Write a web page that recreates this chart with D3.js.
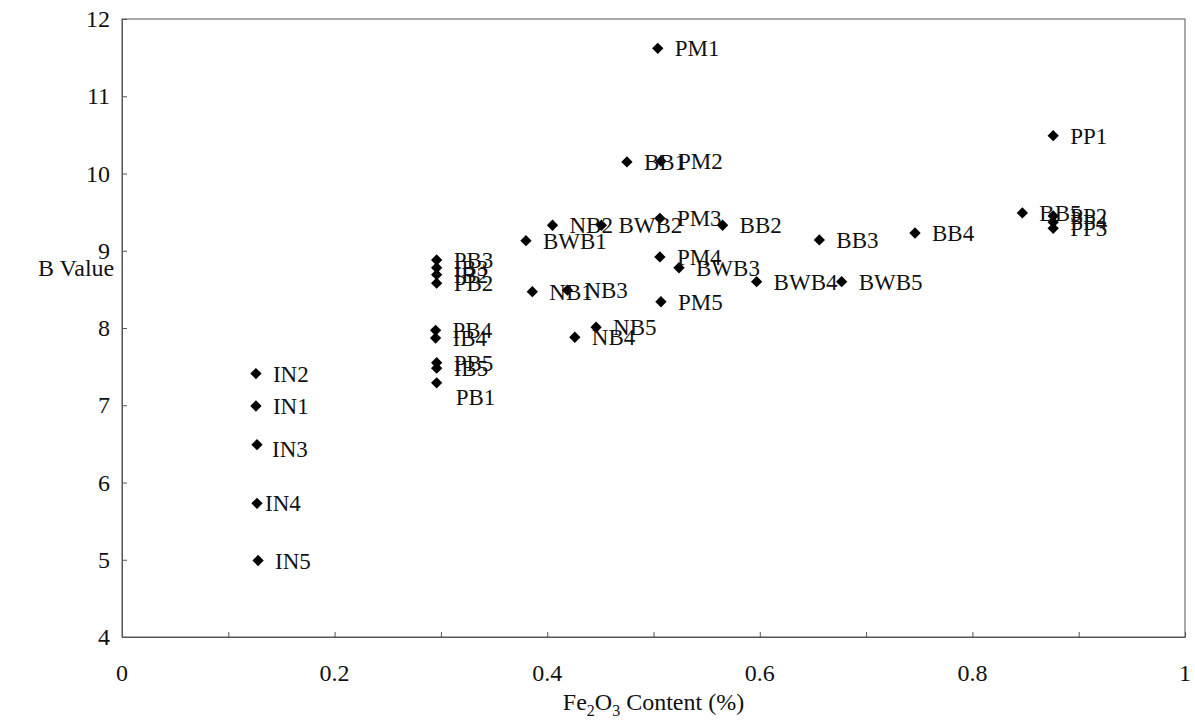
<!DOCTYPE html>
<html>
<head>
<meta charset="utf-8">
<script src="https://cdn.jsdelivr.net/npm/d3@7"></script>
<style>
  body { margin: 0; background: #fff; }
  text { font-family: "Liberation Serif", "DejaVu Serif", serif; fill: #111; }
</style>
</head>
<body>
<svg id="chart" width="1195" height="722"></svg>
<script>

const names = ["IN2", "IN1", "IN3", "IN4", "IN5",
  "PB3", "IB3", "IB2", "PB2", "PB4", "IB4", "PB5", "IB5", "PB1",
  "BWB1", "NB2", "BWB2", "PM3", "BB2", "BB1", "PM2", "PM1",
  "PP1", "BB5", "PP2", "PP4", "PP3", "BB3", "BB4",
  "PM4", "BWB3", "BWB4", "BWB5", "NB1", "NB3", "PM5", "NB5", "NB4"]

const fe2o3 = [0.126, 0.126, 0.127, 0.127, 0.128,
  0.296, 0.296, 0.296, 0.296, 0.295, 0.295, 0.296, 0.296, 0.296,
  0.380, 0.405, 0.451, 0.506, 0.565, 0.475, 0.507, 0.504,
  0.876, 0.847, 0.876, 0.876, 0.876, 0.656, 0.746,
  0.506, 0.524, 0.597, 0.677, 0.386, 0.419, 0.507, 0.446, 0.426]

const bValue = [7.41, 6.99, 6.49, 5.73, 4.99,
  8.88, 8.78, 8.69, 8.58, 7.97, 7.87, 7.55, 7.48, 7.29,
  9.13, 9.33, 9.33, 9.42, 9.33, 10.15, 10.16, 11.62,
  10.49, 9.49, 9.45, 9.37, 9.29, 9.14, 9.23,
  8.92, 8.78, 8.60, 8.60, 8.47, 8.49, 8.34, 8.01, 7.88]

const xTicks = [0, 0.2, 0.4, 0.6, 0.8, 1]
const yTicks = [4, 5, 6, 7, 8, 9, 10, 11, 12]

// a few labels sit off the default spot
const labelNudge = { PB1: [2, 14], IN4: [-9, 0], IN3: [-2, 4] }

const svg = d3.select("#chart")

const x = d3.scaleLinear().domain([0, 1]).range([122, 1185])
const y = d3.scaleLinear().domain([4, 12]).range([637, 19])

const points = names.map((n, i) => ({ name: n, fe: fe2o3[i], b: bValue[i] }))

// plot frame
svg.append("rect")
  .attr("x", x(0))
  .attr("y", y(12))
  .attr("width", x(1) - x(0))
  .attr("height", y(4) - y(12))
  .attr("fill", "none")
  .attr("stroke", "#555")
  .attr("stroke-width", 1)

// x axis, ticks point inward
const xAxis = svg.append("g")
  .attr("transform", `translate(0,${y(4)})`)
  .call(d3.axisBottom(x).tickValues(d3.range(0, 1.01, 0.1)).tickSizeInner(-5).tickSizeOuter(0).tickFormat(""))

xAxis.select(".domain").attr("stroke", "#555")
xAxis.selectAll(".tick line").attr("stroke", "#555")

svg.append("g")
  .selectAll("text")
  .data(xTicks)
  .join("text")
  .attr("x", (d) => x(d))
  .attr("y", y(4) + 44)
  .attr("text-anchor", "middle")
  .style("font-size", "24px")
  .text((d) => d)

// y axis
const yAxis = svg.append("g")
  .attr("transform", `translate(${x(0)},0)`)
  .call(d3.axisLeft(y).tickValues(yTicks).tickSizeInner(-5).tickSizeOuter(0).tickFormat(""))

yAxis.select(".domain").attr("stroke", "#555")
yAxis.selectAll(".tick line").attr("stroke", "#555")

svg.append("g")
  .selectAll("text")
  .data(yTicks)
  .join("text")
  .attr("x", x(0) - 12)
  .attr("y", (d) => y(d) + 8)
  .attr("text-anchor", "end")
  .style("font-size", "24px")
  .text((d) => d)

// axis titles
svg.append("text")
  .attr("x", 38)
  .attr("y", 276)
  .style("font-size", "24px")
  .text("B Value")

const xTitle = svg.append("text")
  .attr("x", x(0.5))
  .attr("y", 710)
  .attr("text-anchor", "middle")
  .style("font-size", "24px")

xTitle.append("tspan").text("Fe")
xTitle.append("tspan").attr("dy", 6).style("font-size", "16px").text("2")
xTitle.append("tspan").attr("dy", -6).text("O")
xTitle.append("tspan").attr("dy", 6).style("font-size", "16px").text("3")
xTitle.append("tspan").attr("dy", -6).text(" Content (%)")

// markers
const diamond = d3.symbol().type(d3.symbolSquare).size(64)

svg.append("g")
  .selectAll("path")
  .data(points)
  .join("path")
  .attr("d", diamond)
  .attr("transform", (d) => `translate(${x(d.fe)},${y(d.b)}) rotate(45)`)
  .attr("fill", "#000")

// data labels
svg.append("g")
  .selectAll("text")
  .data(points)
  .join("text")
  .attr("x", (d) => x(d.fe) + 17 + (labelNudge[d.name] ? labelNudge[d.name][0] : 0))
  .attr("y", (d) => y(d.b) + 8 + (labelNudge[d.name] ? labelNudge[d.name][1] : 0))
  .style("font-size", "23px")
  .text((d) => d.name)

</script>
</body>
</html>
